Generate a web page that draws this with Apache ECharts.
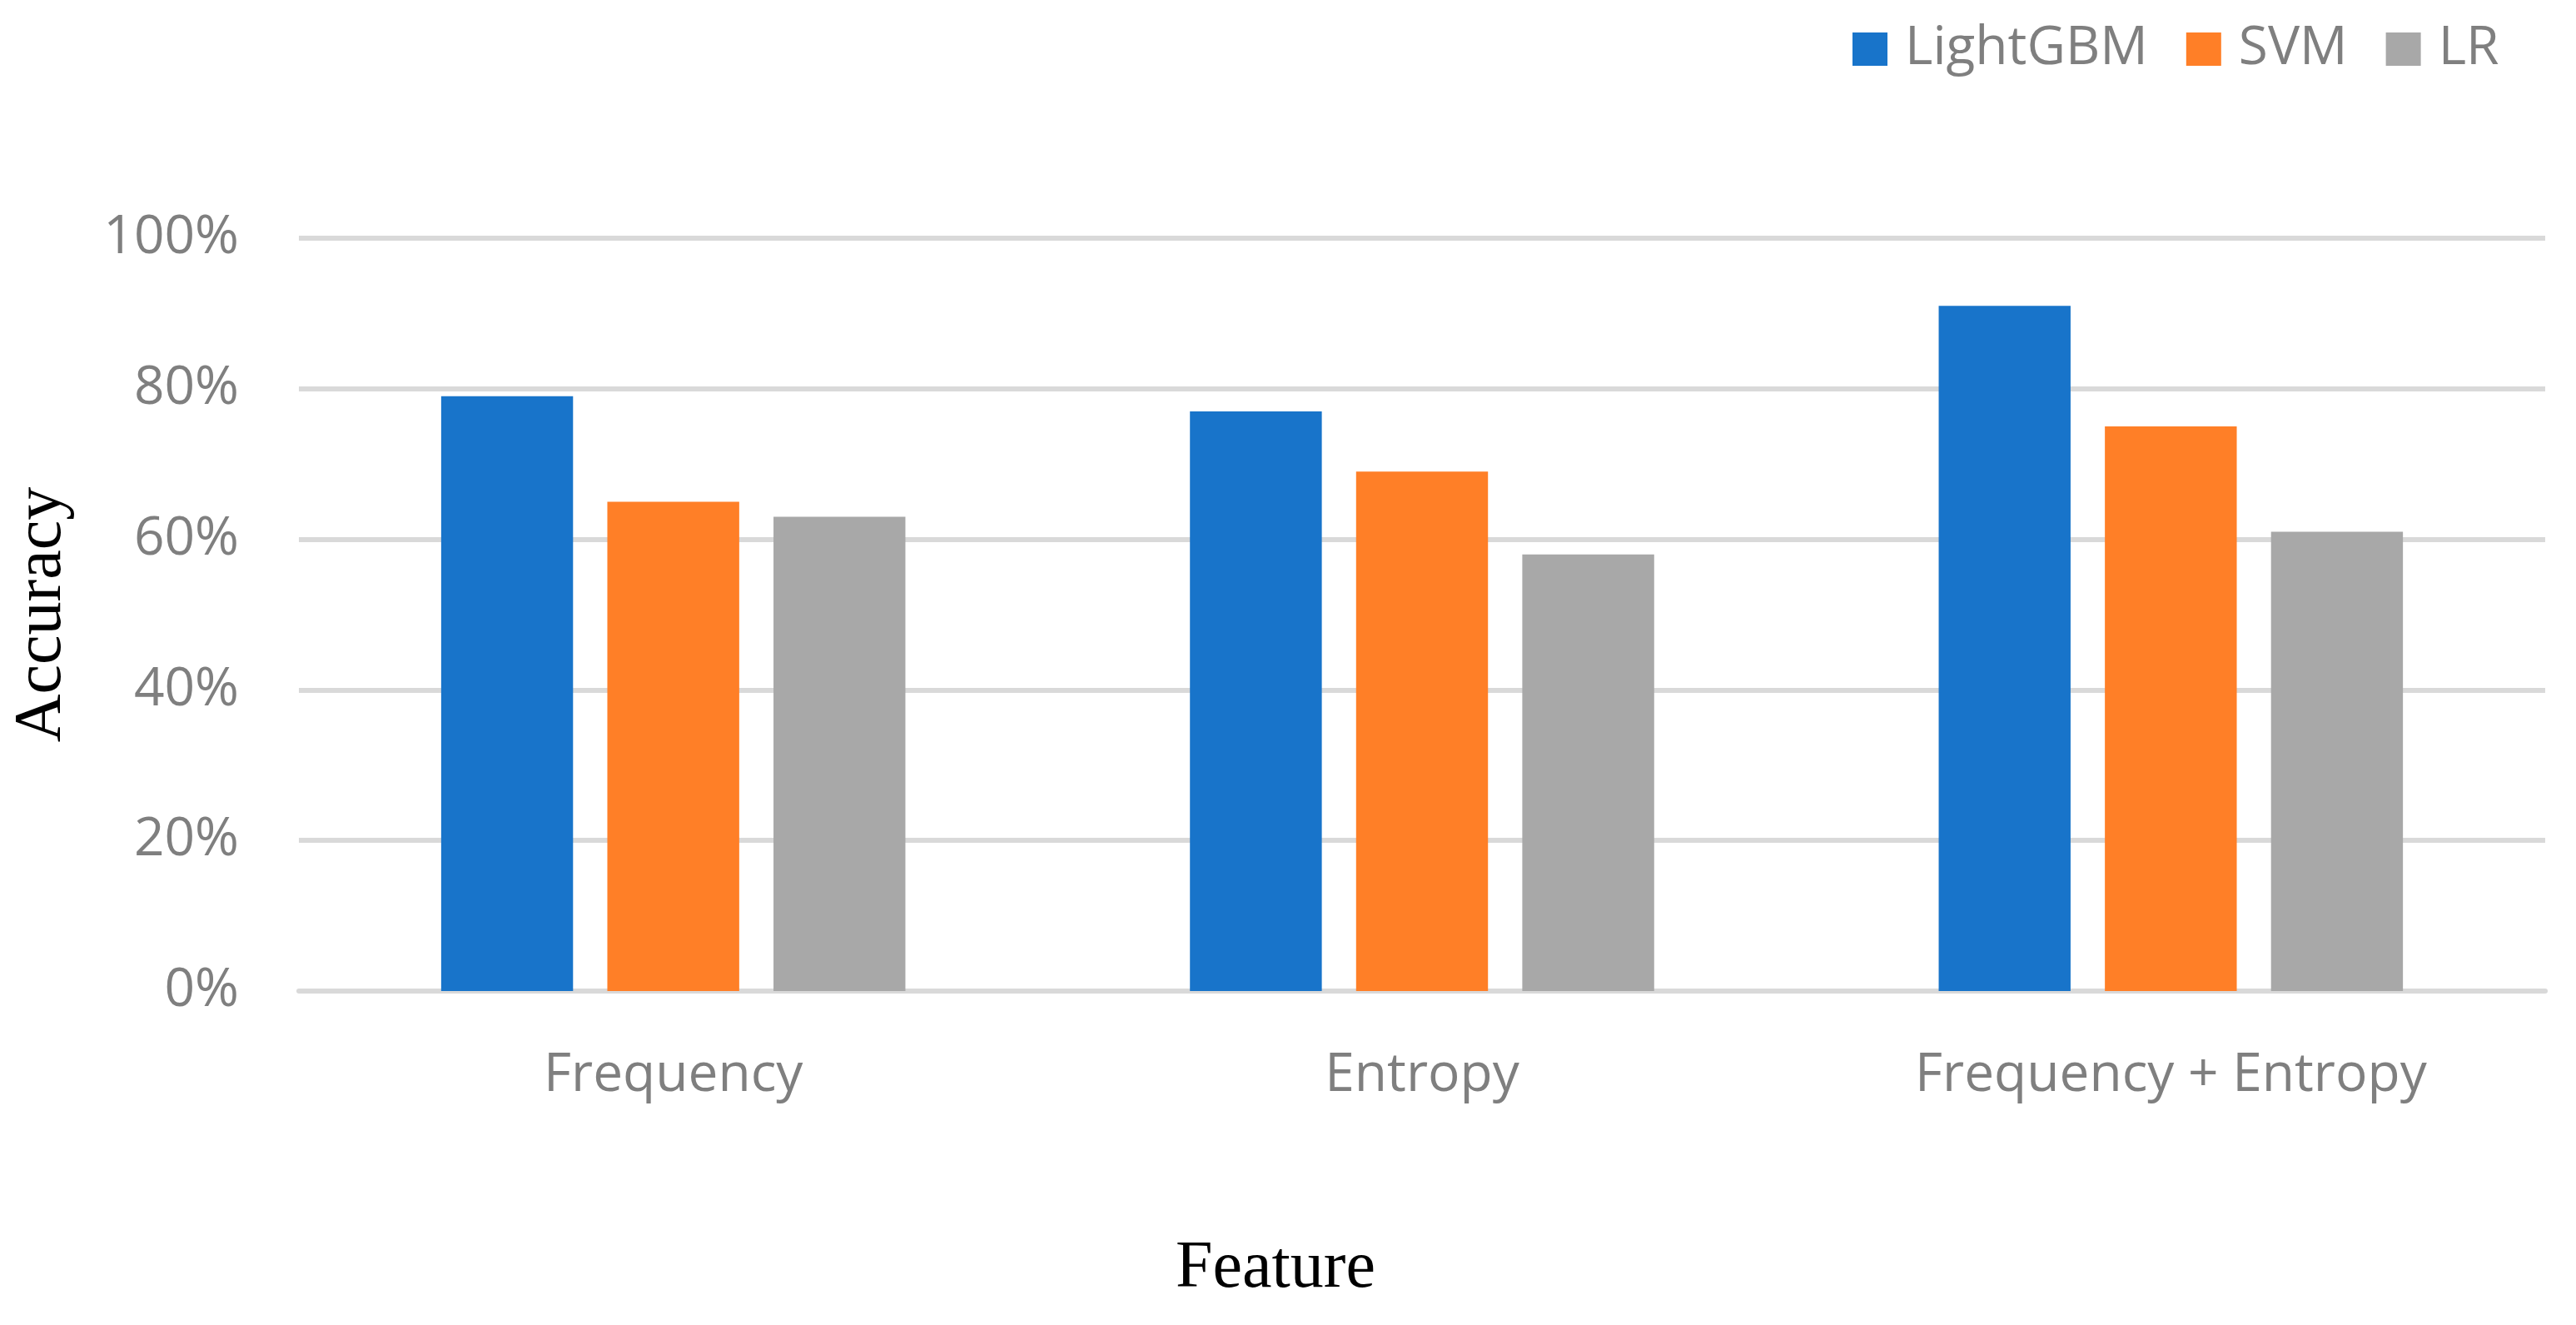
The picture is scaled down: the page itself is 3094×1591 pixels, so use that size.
<!DOCTYPE html>
<html>
<head>
<meta charset="utf-8">
<script src="https://cdn.jsdelivr.net/npm/echarts@6/dist/echarts.min.js"></script>
<style>
html,body{margin:0;padding:0;background:#fff;}
#chart{width:3094px;height:1591px;}
</style>
</head>
<body>
<div id="chart"></div>
<script>
const categories = ['Frequency', 'Entropy', 'Frequency + Entropy'];
const seriesNames = ['LightGBM', 'SVM', 'LR'];
const lightgbm = [79, 77, 91];
const svm = [65, 69, 75];
const lr = [63, 58, 61];
const yTicks = [0, 20, 40, 60, 80, 100];
const colors = ['#1874CA', '#FF7F27', '#A8A8A8'];

const chart = echarts.init(document.getElementById('chart'));
const labelFont = '"Open Sans", "Noto Sans", sans-serif';
const seriesData = [lightgbm, svm, lr];

chart.setOption({
  animation: false,
  backgroundColor: '#ffffff',
  color: colors,
  legend: {
    data: seriesNames,
    left: 2220,
    top: 22,
    itemWidth: 42,
    itemHeight: 40,
    itemGap: 46,
    icon: 'rect',
    textStyle: { fontFamily: labelFont, fontSize: 64, color: '#7f7f7f', padding: [0, 0, 0, 16] }
  },
  grid: { left: 359, right: 37, top: 286, bottom: 401 },
  xAxis: {
    type: 'category',
    data: categories,
    name: 'Feature',
    nameLocation: 'middle',
    nameGap: 294,
    nameTextStyle: { fontFamily: '"Liberation Serif", "Times New Roman", serif', fontSize: 80, color: '#000', padding: [0, 352, 0, 0] },
    axisLine: { show: true, lineStyle: { color: '#d9d9d9', width: 6 } },
    axisTick: { show: false },
    axisLabel: { fontFamily: labelFont, fontSize: 64, color: '#7f7f7f', margin: 70 }
  },
  yAxis: {
    type: 'value',
    min: yTicks[0],
    max: yTicks[yTicks.length - 1],
    interval: 20,
    name: 'Accuracy',
    nameLocation: 'middle',
    nameGap: 268,
    nameTextStyle: { fontFamily: '"Liberation Serif", "Times New Roman", serif', fontSize: 80, color: '#000' },
    axisLine: { show: false },
    axisTick: { show: false },
    splitLine: { show: true, lineStyle: { color: '#d9d9d9', width: 6 } },
    axisLabel: { fontFamily: labelFont, fontSize: 64, color: '#7f7f7f', margin: 72, formatter: '{value}%' }
  },
  series: seriesNames.map((n, i) => ({
    name: n,
    type: 'bar',
    data: seriesData[i],
    barGap: '26%',
    barCategoryGap: '38%',
    itemStyle: { color: colors[i] }
  }))
});
</script>
</body>
</html>
